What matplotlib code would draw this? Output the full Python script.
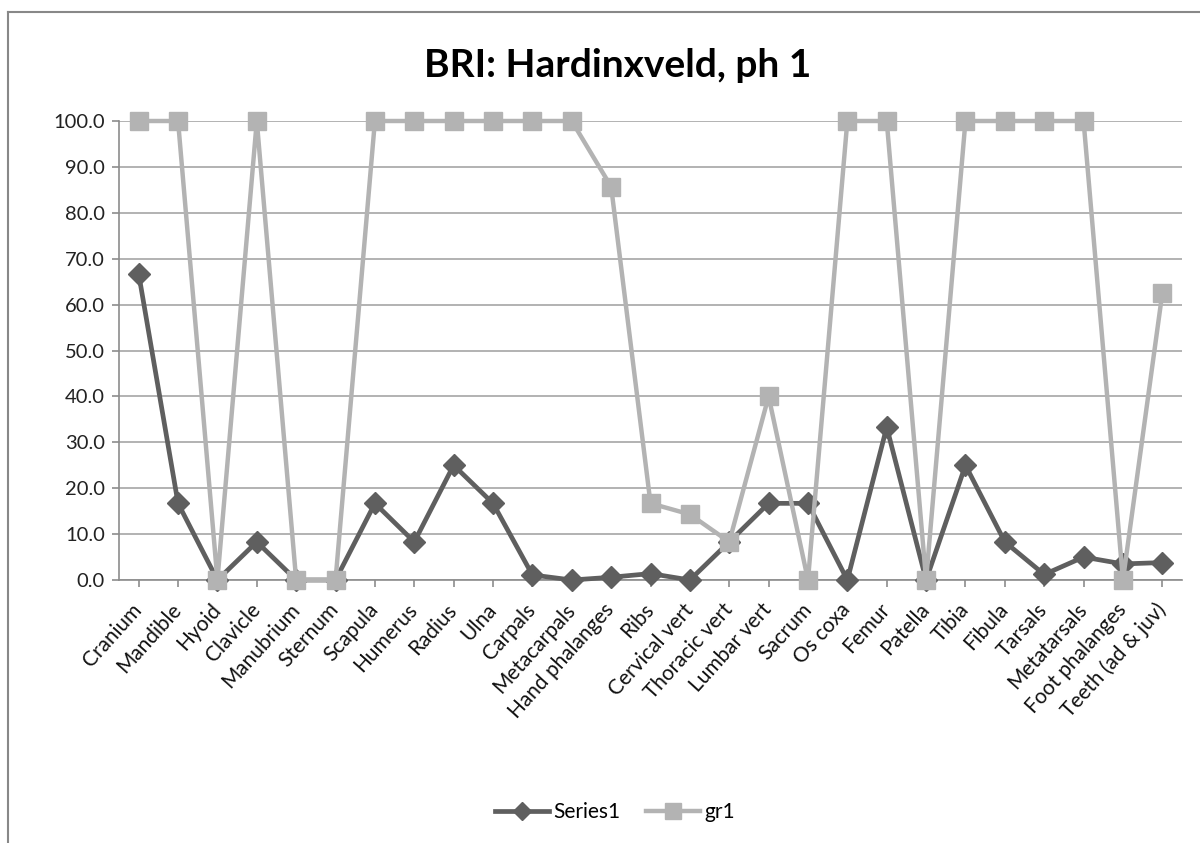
import matplotlib
matplotlib.use("Agg")
import matplotlib.pyplot as plt
from matplotlib.lines import Line2D

categories = ["Cranium", "Mandible", "Hyoid", "Clavicle", "Manubrium", "Sternum",
              "Scapula", "Humerus", "Radius", "Ulna", "Carpals", "Metacarpals",
              "Hand phalanges", "Ribs", "Cervical vert", "Thoracic vert", "Lumbar vert",
              "Sacrum", "Os coxa", "Femur", "Patella", "Tibia", "Fibula", "Tarsals",
              "Metatarsals", "Foot phalanges", "Teeth (ad & juv)"]

series1 = [66.7, 16.7, 0.0, 8.3, 0.0, 0.0, 16.7, 8.3, 25.0, 16.7, 1.1, 0.0,
           0.6, 1.4, 0.0, 8.3, 16.7, 16.7, 0.0, 33.3, 0.0, 25.0, 8.3, 1.2,
           5.0, 3.5, 3.8]

gr1 = [100.0, 100.0, 0.0, 100.0, 0.0, 0.0, 100.0, 100.0, 100.0, 100.0, 100.0, 100.0,
       85.7, 16.7, 14.3, 8.3, 40.0, 0.0, 100.0, 100.0, 0.0, 100.0, 100.0, 100.0,
       100.0, 0.0, 62.5]

yticks = [0, 10, 20, 30, 40, 50, 60, 70, 80, 90, 100]

FONT = ["Lato", "DejaVu Sans"]
plt.rcParams["font.family"] = FONT

dark = "#5f5f5f"
light = "#b3b3b3"
axis_col = "#8c8c8c"
grid_col = "#a6a6a6"

W, H = 1200, 843
fig = plt.figure(figsize=(W / 100, H / 100), dpi=100)

# outer chart frame (left and top edges visible)
fig.add_artist(Line2D([8 / W, 8 / W], [0, 1 - 12 / H],
                      transform=fig.transFigure, color="#888888", lw=1.5))
fig.add_artist(Line2D([8 / W, 1], [1 - 12 / H, 1 - 12 / H],
                      transform=fig.transFigure, color="#888888", lw=1.5))

ax = fig.add_axes([119 / W, 1 - 580 / H, (1182 - 119) / W, (580 - 121) / H])

x = list(range(len(categories)))
ax.plot(x, series1, color=dark, lw=3.4, marker="D", markersize=11,
        markerfacecolor=dark, markeredgecolor=dark, label="Series1", zorder=3,
        clip_on=False)
ax.plot(x, gr1, color=light, lw=3.2, marker="s", markersize=13,
        markerfacecolor=light, markeredgecolor=light, label="gr1", zorder=4,
        clip_on=False)

ax.set_xlim(-0.5, len(categories) - 0.5)
ax.set_ylim(0, 100)
ax.set_yticks(yticks)
ax.set_yticklabels([f"{v:.1f}" for v in yticks], fontsize=14.5, color="#222222")
ax.set_xticks(x)
ax.set_xticklabels(categories, rotation=48, ha="right", va="center",
                   rotation_mode="anchor", fontsize=15, color="#111111")

ax.yaxis.grid(True, color=grid_col, lw=1.2)
ax.set_axisbelow(True)
for side in ("top", "right"):
    ax.spines[side].set_visible(False)
for side in ("left", "bottom"):
    ax.spines[side].set_color(axis_col)
    ax.spines[side].set_linewidth(1.2)
ax.tick_params(axis="both", direction="out", length=5, color=axis_col, width=1.2)
ax.tick_params(axis="x", pad=14)
ax.tick_params(axis="y", pad=5)

fig.text(618 / W, 1 - 77 / H, "BRI: Hardinxveld, ph 1", ha="center", va="baseline",
         fontsize=28, fontweight="bold", color="#000000")

handles = [
    Line2D([], [], color=dark, lw=3.4, marker="D", markersize=9),
    Line2D([], [], color=light, lw=3.2, marker="s", markersize=11),
]
fig.legend(handles, ["Series1", "gr1"], loc="center", bbox_to_anchor=(615 / W, 1 - 812 / H),
           ncol=2, frameon=False, fontsize=15, handlelength=2.6, columnspacing=1.2,
           handletextpad=0.2)

fig.savefig("out.png", dpi=100, facecolor="white")
